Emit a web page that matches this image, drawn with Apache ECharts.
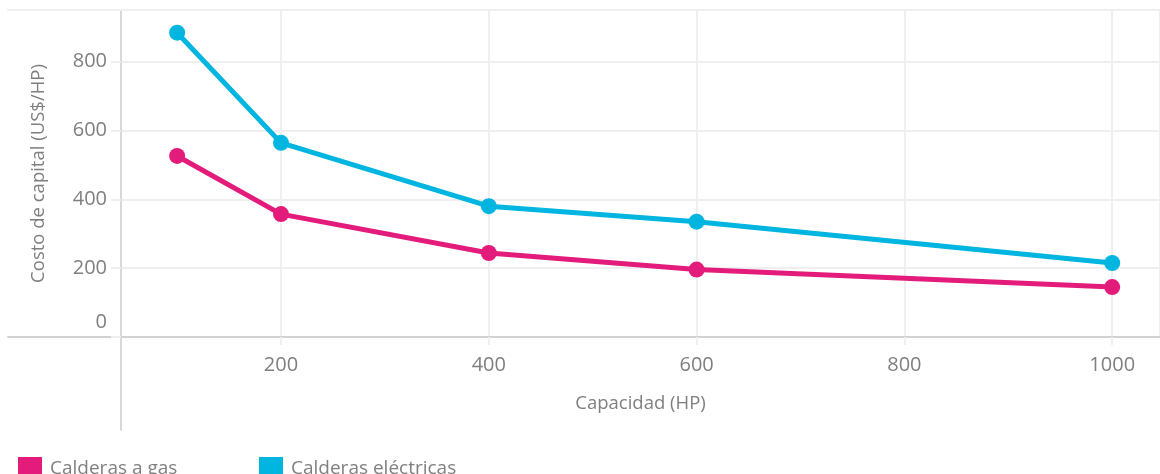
<!DOCTYPE html>
<html>
<head>
<meta charset="utf-8">
<script src="https://cdn.jsdelivr.net/npm/echarts@6/dist/echarts.min.js"></script>
<style>
  html, body { margin: 0; padding: 0; background: #ffffff; }
  #chart { width: 1160px; height: 474px; }
</style>
</head>
<body>
<div id="chart"></div>
<script>
// Capital cost per horsepower for gas vs. electric boilers
const capacities = [100, 200, 400, 600, 1000];
const gasCost = [526, 357, 244, 196, 145];
const electricCost = [884, 564, 380, 335, 215];
const seriesNames = ['Calderas a gas', 'Calderas eléctricas'];
const xName = 'Capacidad (HP)';
const yName = 'Costo de capital (US$/HP)';

const FONT = '"Open Sans", "Noto Sans", sans-serif';
const TEXT = '#7f7f7f';
const GRID = '#efefef';
const PINK = '#e31c7b';
const BLUE = '#00b5e0';

const chart = echarts.init(document.getElementById('chart'), null, { renderer: 'canvas' });

const hidden = { show: false };

chart.setOption({
  animation: false,
  backgroundColor: '#ffffff',
  textStyle: { fontFamily: FONT },
  grid: [
    // plot area
    { left: 121, right: 0, top: 10, bottom: 137, containLabel: false },
    // frame lines running past the plot on the left
    { left: 8, right: 0, top: 10, bottom: 137, containLabel: false },
    // vertical axis line continuing under the plot
    { left: 121, right: 0, top: 10, bottom: 44, containLabel: false }
  ],
  xAxis: [
    {
      gridIndex: 0,
      type: 'value',
      min: 46,
      max: 1046,
      splitNumber: 5,
      name: xName,
      nameLocation: 'middle',
      nameGap: 57,
      nameTextStyle: { color: TEXT, fontSize: 18.5, fontFamily: FONT },
      axisLine: { show: false },
      axisTick: { show: true, length: 8, lineStyle: { color: GRID, width: 2 } },
      axisLabel: {
        color: TEXT, fontSize: 20, fontFamily: FONT, margin: 18,
        showMinLabel: false, showMaxLabel: false,
        formatter: function (v) { return String(v); }
      },
      splitLine: { show: true, lineStyle: { color: GRID, width: 2 } }
    },
    {
      gridIndex: 1, type: 'value', min: 0, max: 1, position: 'bottom',
      axisLine: { show: true, lineStyle: { color: '#d2d2d2', width: 2 } },
      axisTick: hidden, axisLabel: hidden, splitLine: hidden
    },
    {
      gridIndex: 1, type: 'value', min: 0, max: 1, position: 'top',
      axisLine: { show: true, lineStyle: { color: GRID, width: 2 } },
      axisTick: hidden, axisLabel: hidden, splitLine: hidden
    },
    {
      gridIndex: 2, type: 'value', min: 0, max: 1, show: false
    }
  ],
  yAxis: [
    {
      gridIndex: 0,
      type: 'value',
      min: 0,
      max: 950,
      interval: 200,
      name: yName,
      nameLocation: 'middle',
      nameGap: 73,
      nameTextStyle: { color: TEXT, fontSize: 18.5, fontFamily: FONT },
      axisLine: { show: false },
      axisTick: { show: true, length: 10, lineStyle: { color: GRID, width: 2 } },
      axisLabel: {
        color: TEXT, fontSize: 20, fontFamily: FONT, margin: 14,
        showMaxLabel: false,
        formatter: function (v) { return v === 0 ? '{z|0}' : String(v); },
        rich: {
          z: { color: TEXT, fontSize: 20, fontFamily: FONT, padding: [0, 0, 29, 0] }
        }
      },
      splitLine: { show: true, lineStyle: { color: GRID, width: 2 } }
    },
    {
      gridIndex: 1, type: 'value', min: 0, max: 1, show: false
    },
    {
      gridIndex: 2, type: 'value', min: 0, max: 1, position: 'left',
      axisLine: { show: true, lineStyle: { color: '#d8d8d8', width: 2 } },
      axisTick: hidden, axisLabel: hidden, splitLine: hidden
    }
  ],
  legend: [
    {
      left: 13, top: 452, icon: 'rect', itemWidth: 24, itemHeight: 24,
      data: [seriesNames[0]],
      textStyle: { color: TEXT, fontSize: 19, fontFamily: FONT, padding: [0, 0, 0, 3] }
    },
    {
      left: 254, top: 452, icon: 'rect', itemWidth: 24, itemHeight: 24,
      data: [seriesNames[1]],
      textStyle: { color: TEXT, fontSize: 19, fontFamily: FONT, padding: [0, 0, 0, 3] }
    }
  ],
  series: [
    {
      name: seriesNames[0],
      type: 'line',
      xAxisIndex: 0, yAxisIndex: 0,
      data: capacities.map((c, i) => [c, gasCost[i]]),
      color: PINK,
      symbol: 'circle', symbolSize: 16,
      lineStyle: { width: 5, color: PINK },
      itemStyle: { color: PINK },
      z: 5
    },
    {
      name: seriesNames[1],
      type: 'line',
      xAxisIndex: 0, yAxisIndex: 0,
      data: capacities.map((c, i) => [c, electricCost[i]]),
      color: BLUE,
      symbol: 'circle', symbolSize: 16,
      lineStyle: { width: 5, color: BLUE },
      itemStyle: { color: BLUE },
      z: 5
    }
  ]
});
</script>
</body>
</html>
